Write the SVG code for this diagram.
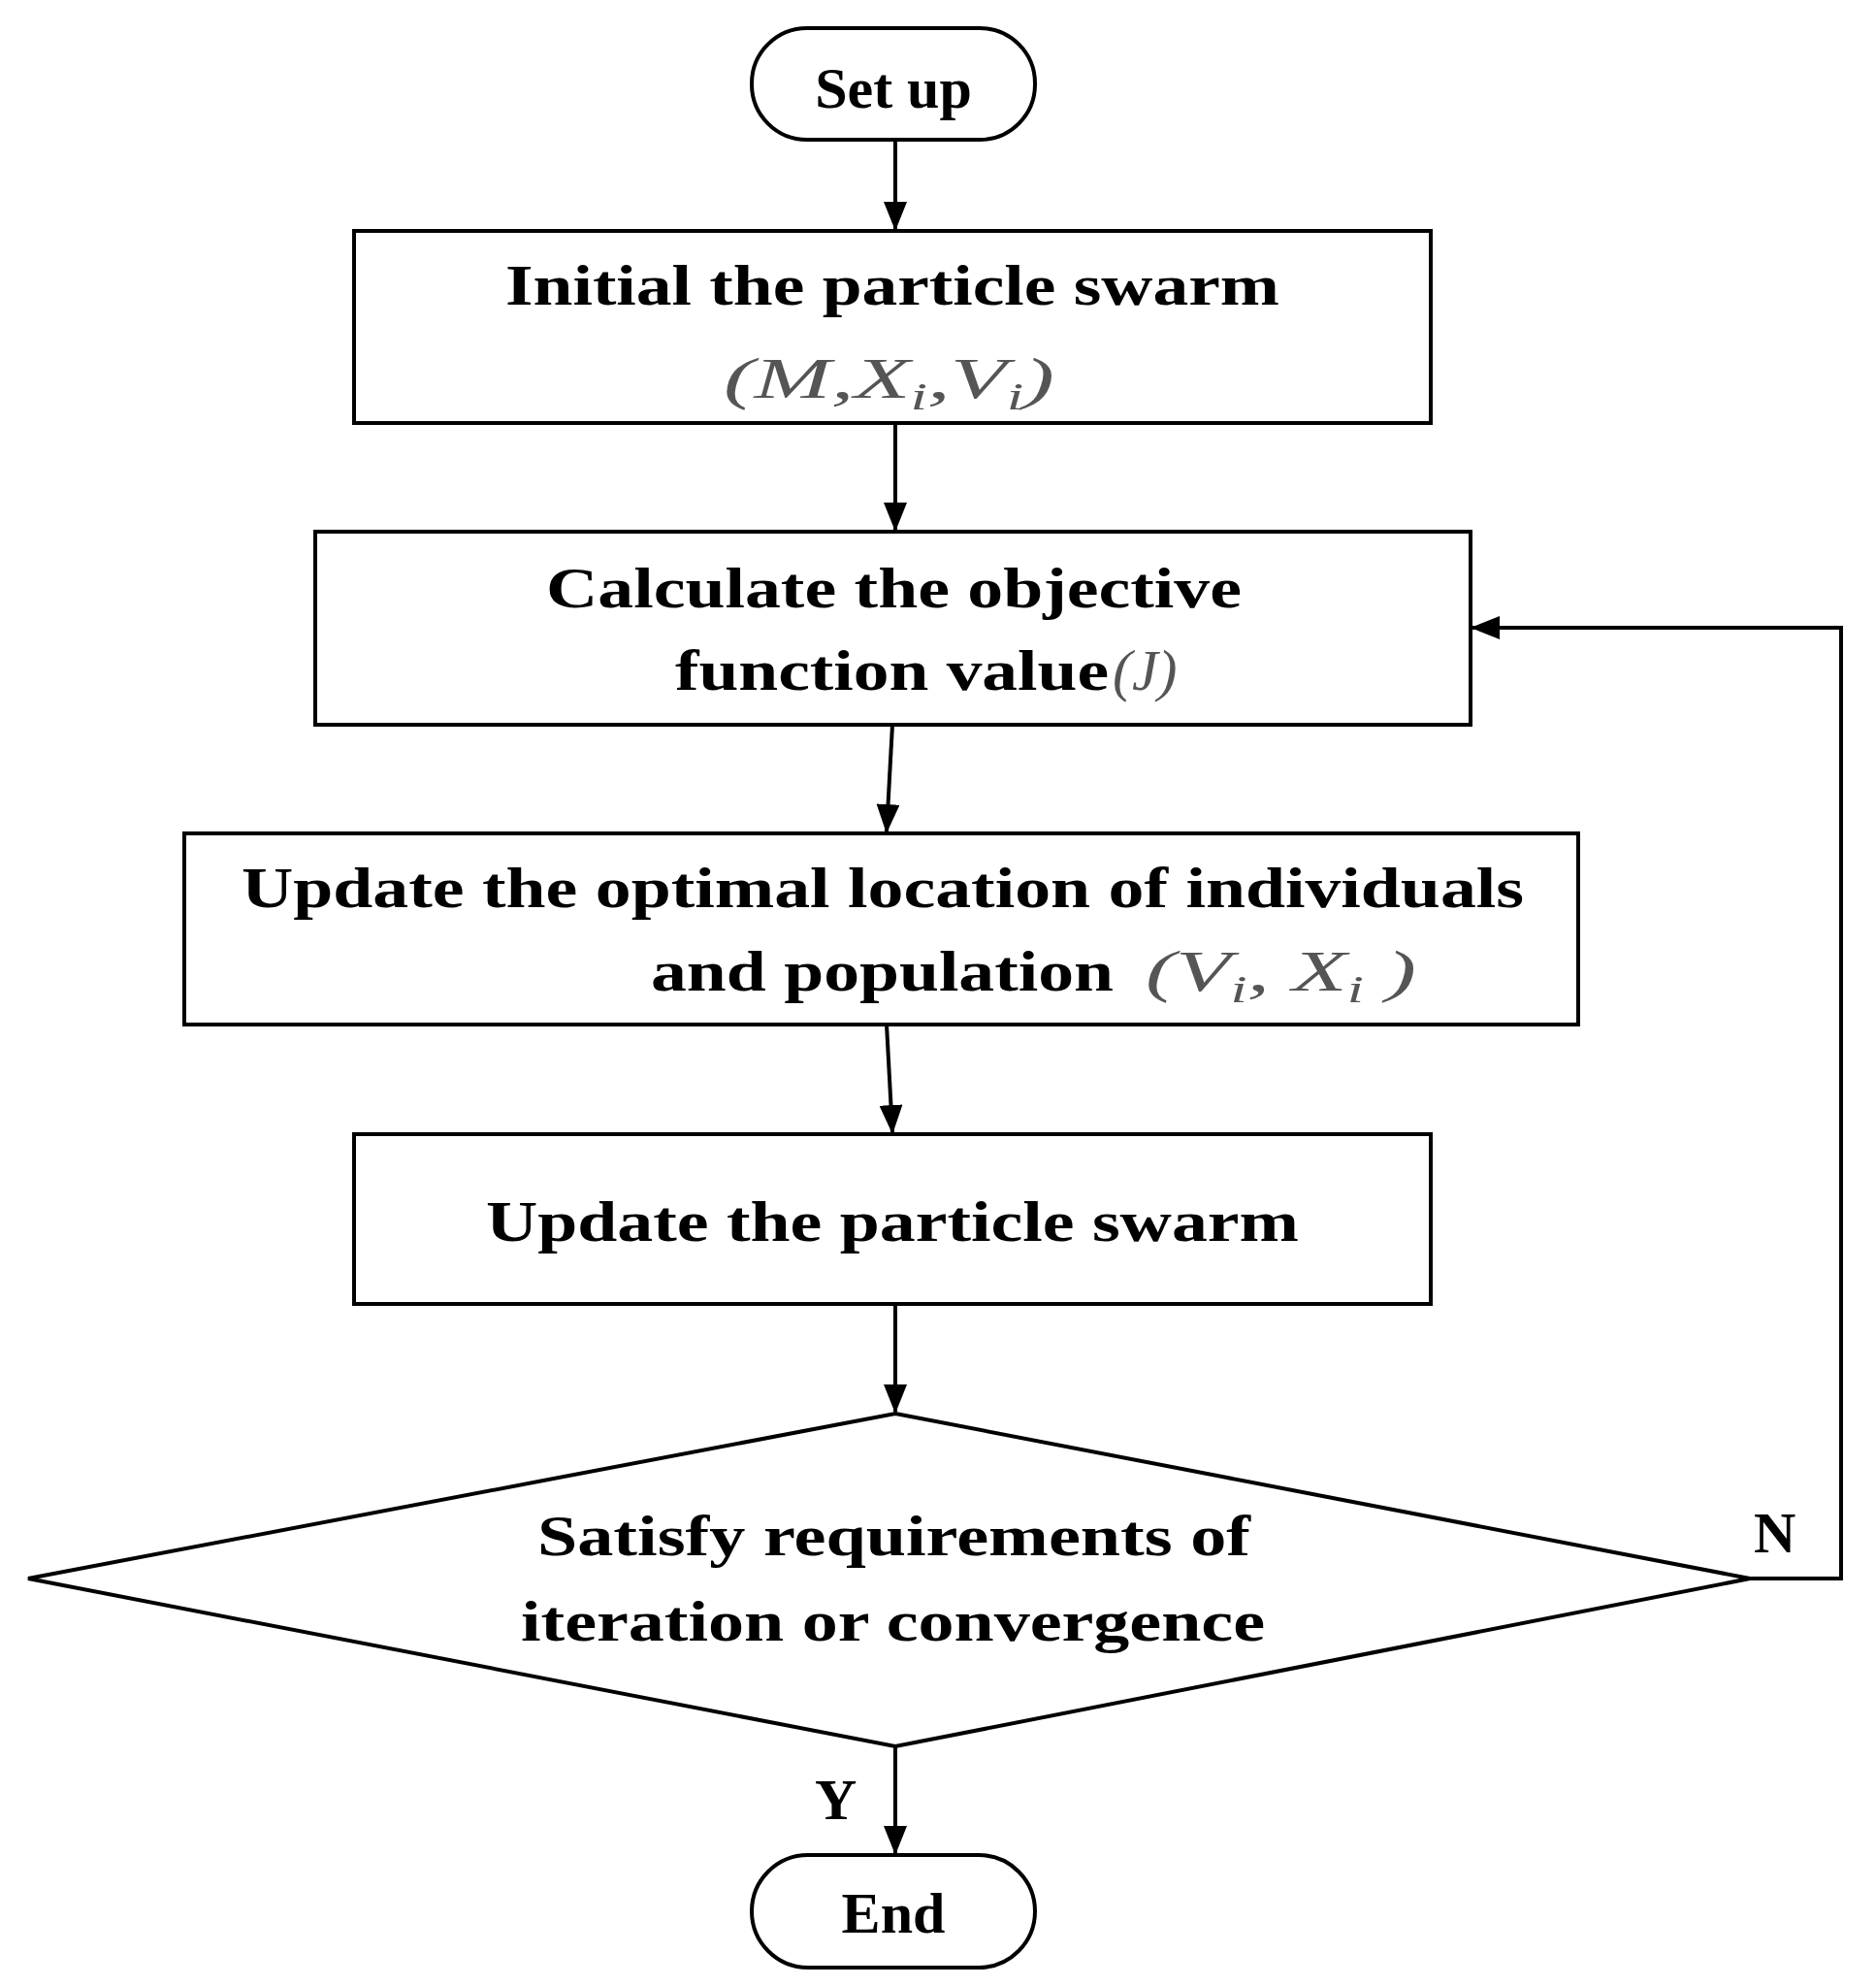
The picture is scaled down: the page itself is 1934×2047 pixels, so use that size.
<svg xmlns="http://www.w3.org/2000/svg" width="1934" height="2047" viewBox="0 0 1934 2047">
<defs>
<marker id="ah" markerWidth="12" markerHeight="12" refX="11" refY="6" orient="auto" markerUnits="userSpaceOnUse" viewBox="0 0 12 12"><path d="M0,0 L12,6 L0,12 z" fill="#000"/></marker>
<style>
.box{fill:#fff;stroke:#000;stroke-width:4}
.t{font-family:"Liberation Serif","Times New Roman",serif;font-weight:bold;font-size:60px;fill:#000}
.m{font-family:"Liberation Serif","Times New Roman",serif;font-style:italic;font-size:60px;fill:#555}
.c{fill:none;stroke:#000;stroke-width:4}
</style>
<marker id="a2" markerWidth="30" markerHeight="24" refX="28" refY="12" orient="auto" markerUnits="userSpaceOnUse" viewBox="0 0 30 24"><path d="M0,0 L30,12 L0,24 z" fill="#000"/></marker>
</defs>
<rect width="1934" height="2047" fill="#fff"/>
<g id="start"><rect class="box" x="775" y="29" width="292" height="115" rx="57"/><text class="t" x="921" y="111" text-anchor="middle">Set up</text></g>
<g id="init"><rect class="box" x="365" y="238" width="1110" height="198"/><text class="t" x="521" y="314" textLength="798" lengthAdjust="spacingAndGlyphs">Initial the particle swarm</text><text class="m" x="746" y="410" textLength="341" lengthAdjust="spacingAndGlyphs">(M,X<tspan font-size="40" dy="12">i</tspan><tspan dy="-12">,V</tspan><tspan font-size="40" dy="12">i</tspan><tspan dy="-12">)</tspan></text></g>
<g id="calc"><rect class="box" x="325" y="548" width="1191" height="199"/><text class="t" x="563" y="626" textLength="717" lengthAdjust="spacingAndGlyphs">Calculate the objective</text><text class="t" x="696" y="711" textLength="447" lengthAdjust="spacingAndGlyphs">function value</text><text class="m" x="1147" y="711">(J)</text></g>
<g id="upd"><rect class="box" x="190" y="859" width="1437" height="197"/><text class="t" x="249" y="935" textLength="1322" lengthAdjust="spacingAndGlyphs">Update the optimal location of individuals</text><text class="t" x="671" y="1021" textLength="477" lengthAdjust="spacingAndGlyphs">and population</text><text class="m" x="1181" y="1021" textLength="279" lengthAdjust="spacingAndGlyphs">(V<tspan font-size="40" dy="12">i</tspan><tspan dy="-12">, X</tspan><tspan font-size="40" dy="12">i</tspan><tspan dy="-12"> )</tspan></text></g>
<g id="swarm"><rect class="box" x="365" y="1169" width="1110" height="175"/><text class="t" x="501" y="1279" textLength="838" lengthAdjust="spacingAndGlyphs">Update the particle swarm</text></g>
<g id="dec"><polygon class="box" points="923,1457 1804,1627 923,1800 29,1627"/><text class="t" x="554" y="1603" textLength="735" lengthAdjust="spacingAndGlyphs">Satisfy requirements of</text><text class="t" x="537" y="1691" textLength="767" lengthAdjust="spacingAndGlyphs">iteration or convergence</text></g>
<g id="end"><rect class="box" x="775" y="1912" width="292" height="116" rx="58"/><text class="t" x="921" y="1992" text-anchor="middle">End</text></g>
<g id="connectors">
<line class="c" x1="923" y1="144" x2="923" y2="236" marker-end="url(#a2)"/>
<line class="c" x1="923" y1="436" x2="923" y2="546" marker-end="url(#a2)"/>
<line class="c" x1="920" y1="747" x2="914" y2="857" marker-end="url(#a2)"/>
<line class="c" x1="914" y1="1056" x2="920" y2="1167" marker-end="url(#a2)"/>
<line class="c" x1="923" y1="1344" x2="923" y2="1455" marker-end="url(#a2)"/>
<line class="c" x1="923" y1="1800" x2="923" y2="1910" marker-end="url(#a2)"/>
<polyline class="c" points="1804,1627 1898,1627 1898,647 1518,647" marker-end="url(#a2)"/>
<text class="t" x="1808" y="1600">N</text>
<text class="t" x="840" y="1875">Y</text>
</g>
</svg>
